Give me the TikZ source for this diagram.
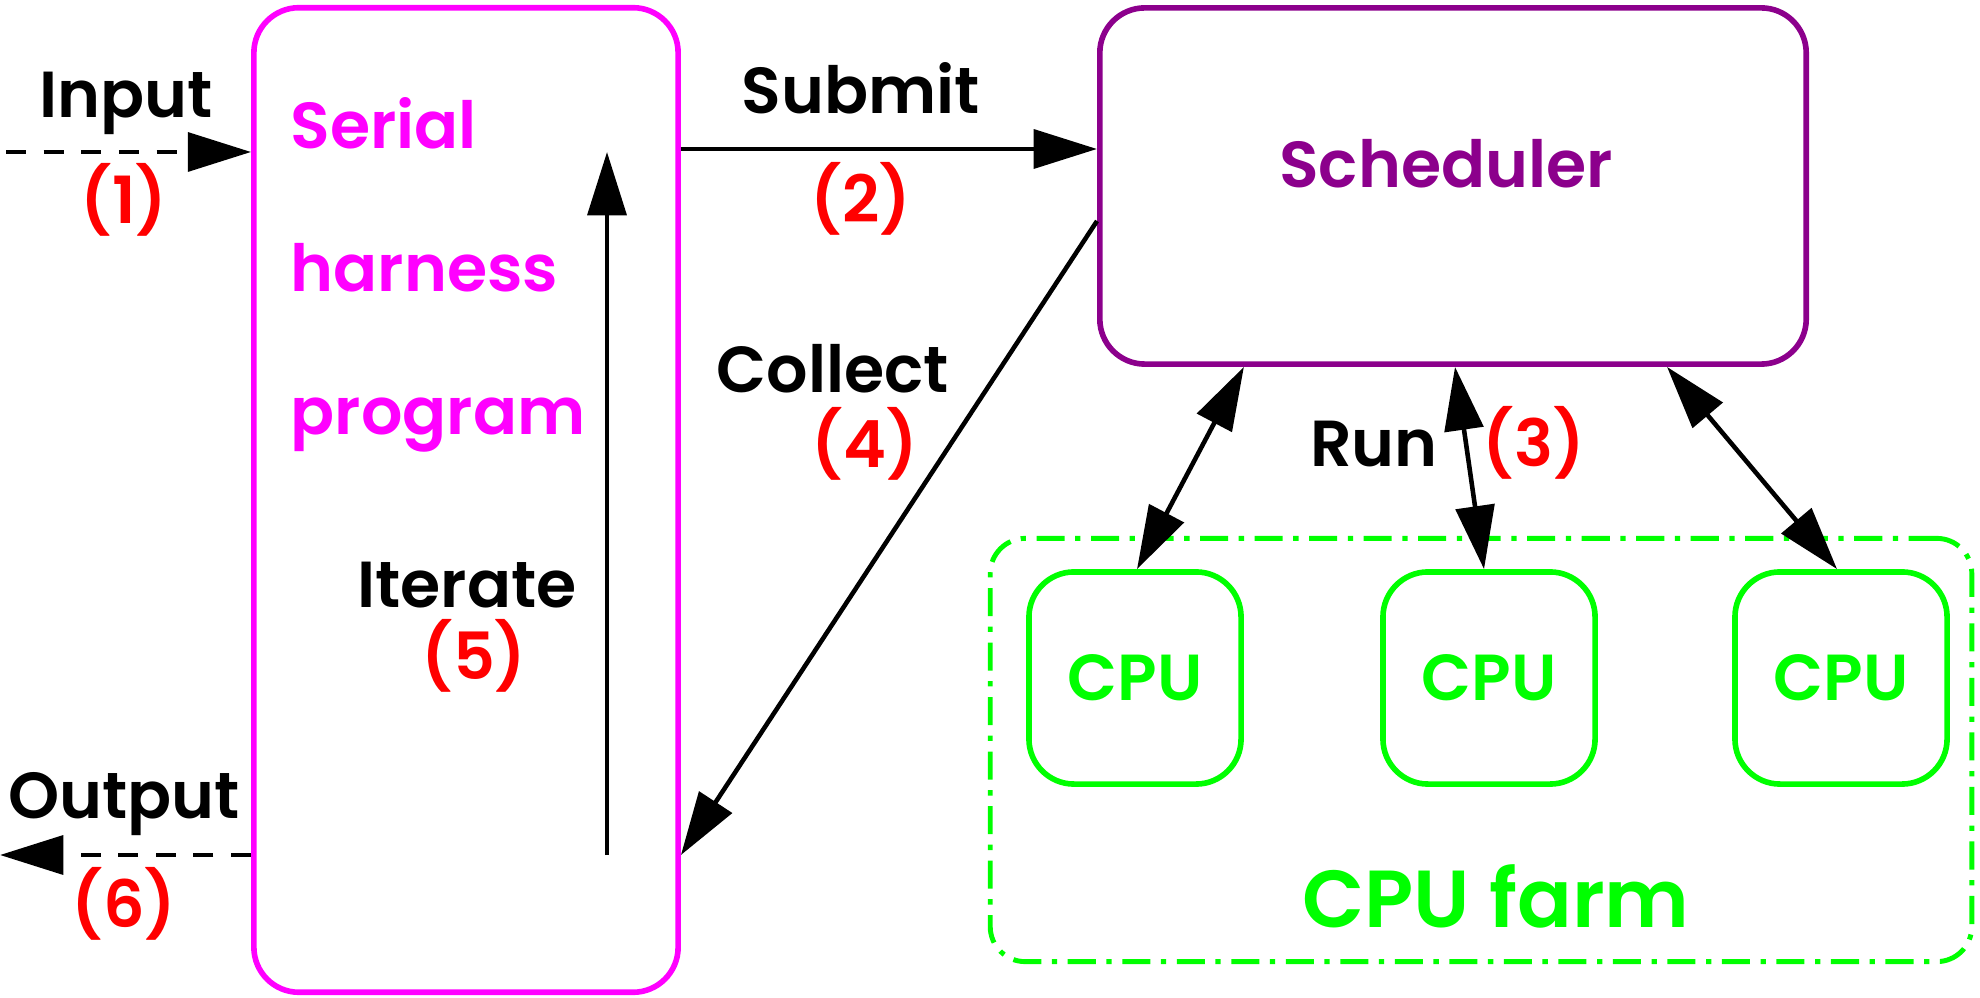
\documentclass[tikz,border=0pt]{standalone}
\usepackage{fontspec}
\setmainfont{Poppins}[BoldFont={Poppins SemiBold}]
\usetikzlibrary{arrows.meta, positioning, calc}
\definecolor{harnessmag}{RGB}{255,0,255}
\definecolor{schedpurple}{RGB}{140,0,140}
\definecolor{cpugreen}{RGB}{0,255,0}
\definecolor{stepred}{RGB}{255,0,0}
\newcommand{\diagfont}{\fontsize{18.5}{22}\selectfont\bfseries}
\tikzset{
  box/.style={rectangle, rounded corners=0.45cm, line width=1.6pt, inner sep=0pt},
  harnessbox/.style={box, draw=harnessmag, minimum width=4.24cm, minimum height=9.84cm},
  schedbox/.style={box, draw=schedpurple, minimum width=7.06cm, minimum height=3.56cm},
  cpubox/.style={box, draw=cpugreen, minimum width=2.12cm, minimum height=2.12cm,
                 font=\diagfont, text=cpugreen},
  farmbox/.style={rectangle, rounded corners=0.35cm, draw=cpugreen, line width=1.4pt,
                  dash pattern=on 8pt off 3pt on 1.5pt off 3pt,
                  minimum width=9.81cm, minimum height=4.23cm},
  lbl/.style={font=\diagfont, inner sep=0pt, text height=13pt, text depth=0pt},
  steplbl/.style={lbl, text=stepred},
  harnesslbl/.style={font=\diagfont, text=harnessmag, inner sep=0pt, anchor=base west},
  arrow/.style={arrows={-Triangle[length=18pt, width=11pt]}, line width=1.3pt},
  biarrow/.style={arrows={Triangle[length=18pt, width=11pt]-Triangle[length=18pt, width=11pt]},
                  line width=1.3pt},
  flowarrow/.style={arrow, dash pattern=on 5.7pt off 5pt},
}
\begin{document}
\begin{tikzpicture}[x=0.01cm, y=-0.01cm]
  \useasboundingbox (0,0) rectangle (1980,998);
  % Boxes
  \node[harnessbox] (harness) at (466,500) {};
  \node[schedbox] (sched) at (1453,186) {};
  \node[farmbox] (farm) at (1481,750) {};
  \node[cpubox] (cpuA) at (1135,678) {CPU};
  \node[cpubox] (cpuB) at (1489,678) {CPU};
  \node[cpubox] (cpuC) at (1841,678) {CPU};
  % Box texts
  \node[harnesslbl] (ser1) at (290,149) {Serial};
  \node[harnesslbl] (ser2) at (290,292) {harness};
  \node[harnesslbl] (ser3) at (290,435) {program};
  \node[lbl, text=schedpurple] (schedtxt) at (1446,165) {Scheduler};
  \node[lbl, text=cpugreen, font=\fontsize{23}{28}\selectfont\bfseries, text height=16pt]
    (farmtxt) at (1496,899) {CPU farm};
  % Helper coordinates
  \coordinate (inp) at (6,152);
  \coordinate (outp) at (0,855);
  \coordinate (ysub) at (0,149);
  \coordinate (ycol) at (0,221);
  \coordinate (itbot) at (607,855);
  \coordinate (ittop) at (607,152);
  \coordinate (runC) at (1667,0);
  % Connectors
  \draw[flowarrow] (inp) -- (harness.west |- inp);
  \draw[flowarrow] (harness.west |- outp) -- (outp);
  \draw[arrow] (harness.east |- ysub) -- (sched.west |- ysub);
  \draw[arrow] (sched.west |- ycol) -- (harness.east |- outp);
  \draw[arrow] (itbot) -- (ittop);
  \draw[biarrow] (sched.south -| cpuA.east) -- ([xshift=0.02cm]cpuA.north);
  \draw[biarrow] ([xshift=0.02cm]sched.south) -- ([xshift=-0.05cm]cpuB.north);
  \draw[biarrow] (sched.south -| runC) -- ([xshift=-0.04cm]cpuC.north);
  % Labels
  \node[lbl] (inputlbl) at (126,95) {Input};
  \node[steplbl] (step1) at (124,201) {(1)};
  \node[lbl] (submitlbl) at (861,91) {Submit};
  \node[steplbl] (step2) at (861,200) {(2)};
  \node[lbl] (runlbl) at (1374,444) {Run};
  \node[steplbl] (step3) at (1534,444) {(3)};
  \node[lbl] (collectlbl) at (833,370) {Collect};
  \node[steplbl] (step4) at (865,445) {(4)};
  \node[lbl] (iteratelbl) at (467,585) {Iterate};
  \node[steplbl] (step5) at (474,657) {(5)};
  \node[lbl] (outputlbl) at (124,796) {Output};
  \node[steplbl] (step6) at (124,905) {(6)};
\end{tikzpicture}
\end{document}
